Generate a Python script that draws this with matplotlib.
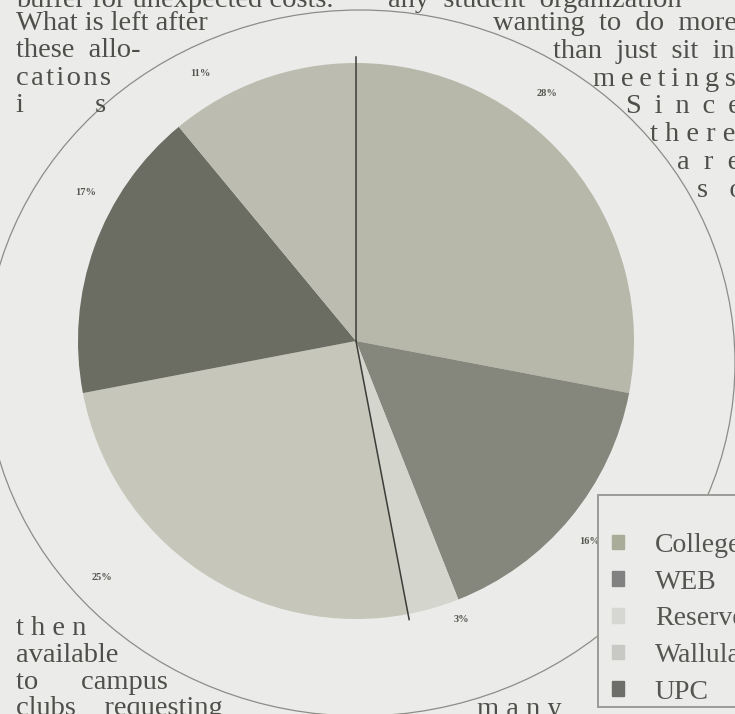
import numpy as np
import matplotlib
matplotlib.use("Agg")
import matplotlib.pyplot as plt
from matplotlib.patches import Ellipse, Rectangle

plt.rcParams.update({'font.family': ['Liberation Serif', 'DejaVu Serif']})

# budget shares
categories = ["College", "WEB", "Reserve", "Wallula", "UPC", "Other"]
shares = [28, 16, 3, 25, 17, 11]
pct_labels = ["28%", "16%", "3%", "25%", "17%", "11%"]
slice_colors = ["#b7b8aa", "#85877c", "#d4d5cc", "#c6c7ba", "#6b6c62", "#bcbdb0"]
legend_colors = ["#aaac9a", "#808180", "#d6d6d3", "#c8c8c5", "#6d6d6a"]

# newspaper copy wrapping round the graphic
TS = "\u2009"
HS = "\u200a"
left_top = ["What is left after", "these  allo-", HS.join("cations"), "i          s"]
right_top = ["wanting  to  do  more", "than  just  sit  in", TS.join("meetings."),
             "S" + TS + " i" + TS + " n" + TS + " c" + TS + " e",
             "t h e r e", "a  r  e", "s   o"]
right_x = [493, 553, 593, 626, 650, 677, 697]
left_bottom = ["t h e n", "available", "to      campus", "clubs    requesting"]

BG = "#ebebe9"
INK = "#4e4e4b"
W, H = 735, 714
FS = 20.5

fig = plt.figure(figsize=(W / 100, H / 100), dpi=100, facecolor=BG)
ax = fig.add_axes([0, 0, 1, 1])
ax.set_facecolor(BG)

cx, cy, r = 356, H - 341, 278
wedges, _ = ax.pie(shares, colors=slice_colors, startangle=90, counterclock=False,
                   center=(cx, cy), radius=r, wedgeprops=dict(linewidth=0))

# dark edge lines at the start and after the reserve slice
bounds = 90 - 360 * np.cumsum([0] + shares) / sum(shares)
for a in [bounds[0], bounds[3]]:
    t = np.radians(a)
    ax.plot([cx, cx + 1.02 * r * np.cos(t)], [cy, cy + 1.02 * r * np.sin(t)],
            color="#3c3c38", lw=1.1)

# percent labels sit a little off the mid-angle in the original
lab_shift = [12.7, -1.1, 4.6, -12.8, -9.0, 10.4]
lab_rad = [1.126, 1.108, 1.07, 1.25, 1.11, 1.115]
for i, lab in enumerate(pct_labels):
    mid = np.radians((bounds[i] + bounds[i + 1]) / 2 + lab_shift[i])
    ax.text(cx + lab_rad[i] * r * np.cos(mid), cy + lab_rad[i] * r * np.sin(mid), lab,
            fontsize=7.5, color="#555550", ha="center", va="center", weight="bold")

ax.add_patch(Ellipse((360, H - 363), 750, 706, fill=False, edgecolor="#8c8c89", lw=0.9))

# column text
ax.text(16, H - 7, "buffer for unexpected costs.", fontsize=FS, color=INK, va="baseline")
ax.text(388, H - 7, "any  student  organization", fontsize=FS, color=INK, va="baseline")
for i, s in enumerate(left_top):
    ax.text(16, H - 30 - 27.3 * i, s, fontsize=FS, color=INK, va="baseline")
for i, s in enumerate(right_top):
    ax.text(right_x[i], H - 30 - 27.8 * i, s, fontsize=FS, color=INK, va="baseline")
for i, s in enumerate(left_bottom):
    ax.text(16, H - 635 - 26.8 * i, s, fontsize=FS, color=INK, va="baseline")
ax.text(477, H - 716, "m a n y", fontsize=FS, color=INK, va="baseline")

# legend box (drawn separately: the original has extra room above the first row)
ax.add_patch(Rectangle((598, H - 707), 160, 212, facecolor=BG, edgecolor="#9a9a97",
                       lw=1.4, zorder=4))
handles = [plt.Rectangle((0, 0), 1, 1, color=c) for c in legend_colors]
leg = ax.legend(handles, categories[:5], loc="upper left",
                bbox_to_anchor=(598 / W, 1 - 519 / H), bbox_transform=fig.transFigure,
                fontsize=20, frameon=False, handlelength=0.45,
                handleheight=0.45, handletextpad=1.1, labelspacing=0.42,
                borderpad=0.5, borderaxespad=0)
leg.set_zorder(5)
for t in leg.get_texts():
    t.set_color("#555552")

ax.set_xlim(0, W)
ax.set_ylim(0, H)
ax.set_aspect("auto")
ax.axis("off")

fig.savefig("out.png", dpi=100, facecolor=BG)
